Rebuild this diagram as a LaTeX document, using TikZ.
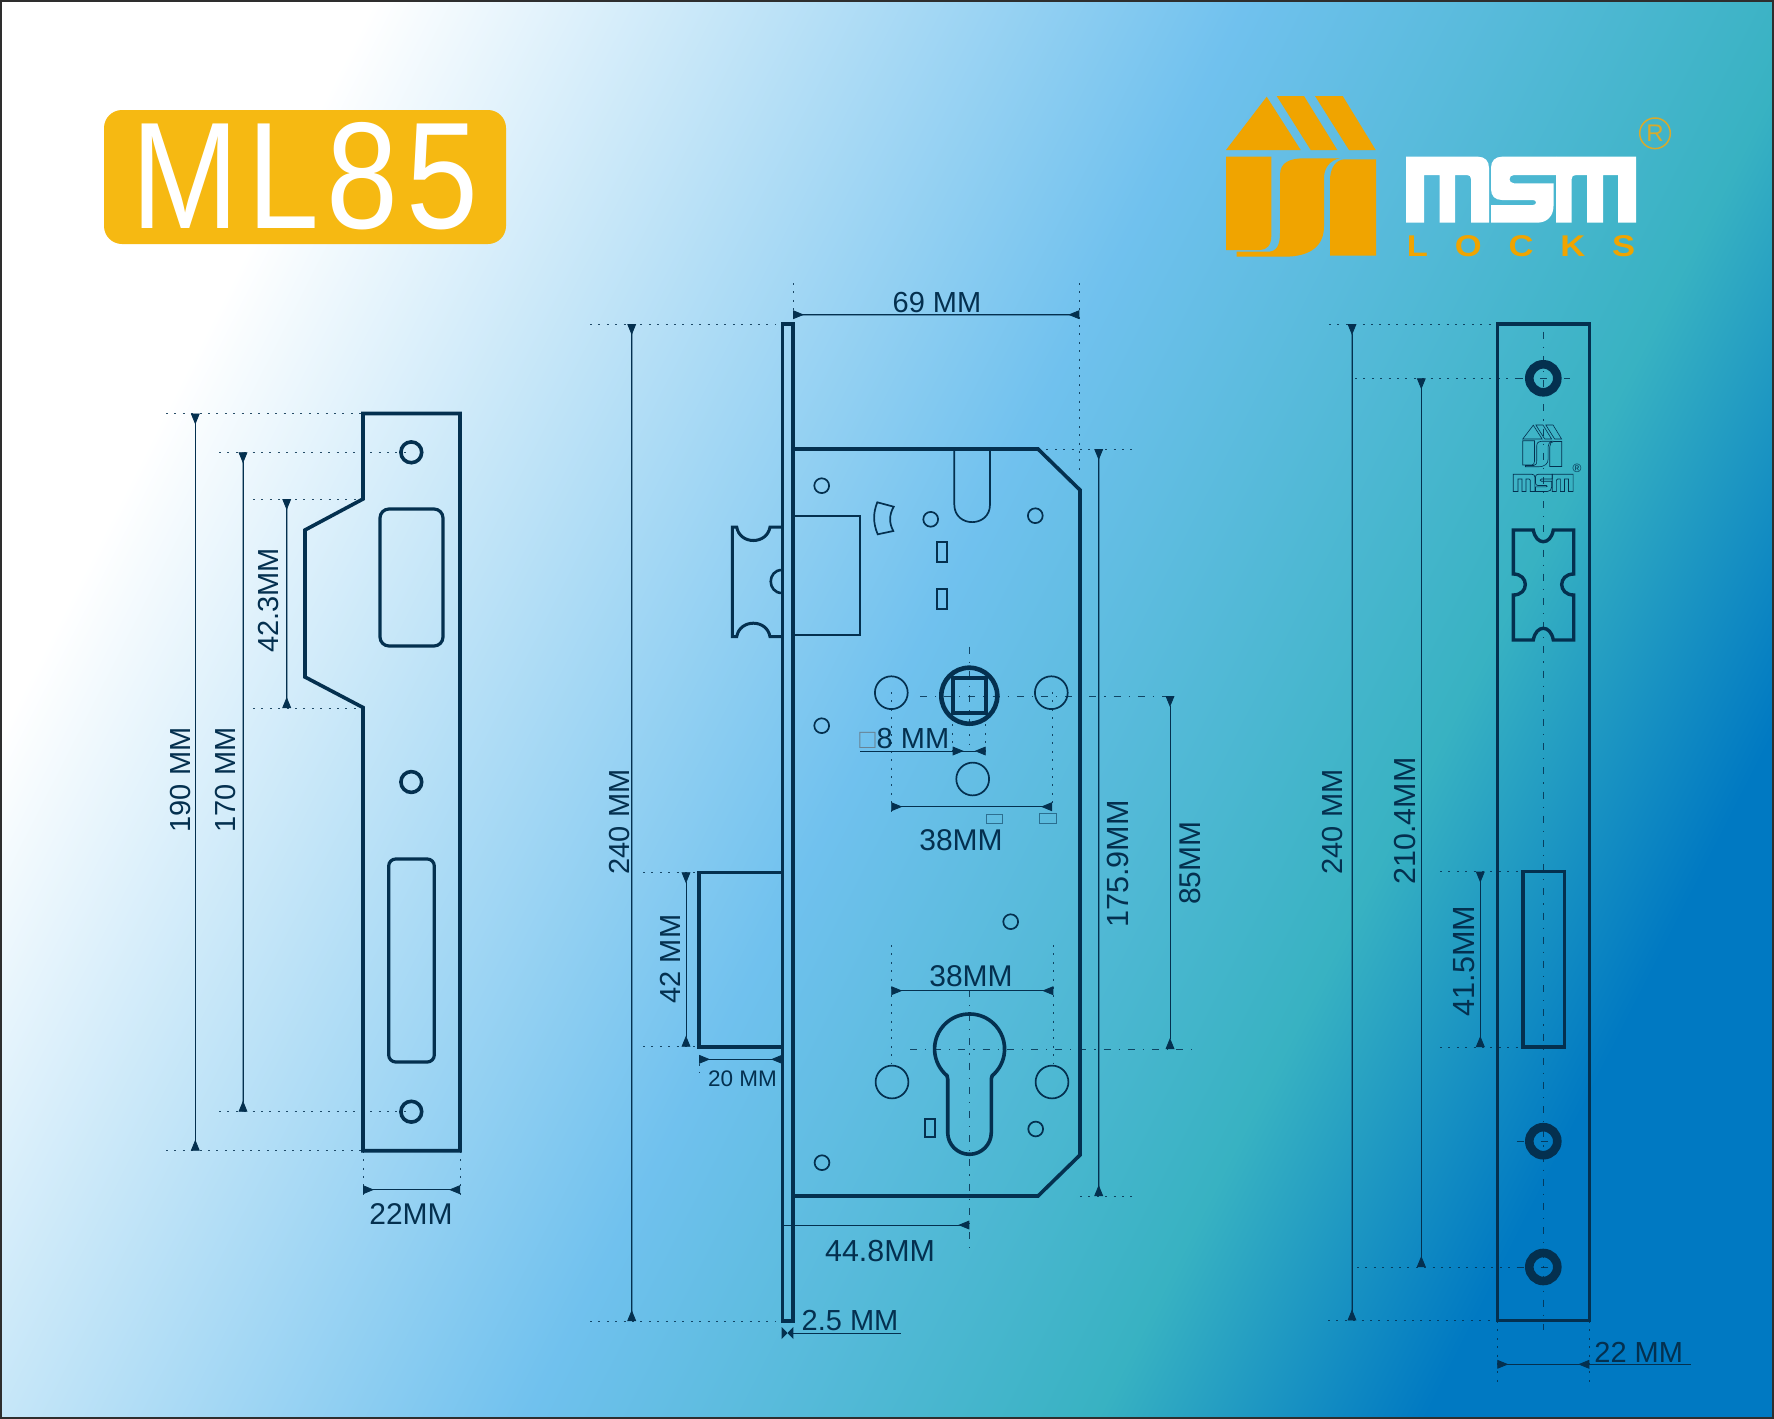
\documentclass[tikz,border=0pt]{standalone}
\usepackage{fontspec}
\setmainfont{Liberation Sans}
\newfontfamily\locksfont[LetterSpace=78]{Liberation Sans}
\usetikzlibrary{arrows.meta}
\definecolor{ink}{HTML}{04304F}
\definecolor{logoor}{HTML}{F0A400}
\definecolor{titleor}{HTML}{F6B912}
\definecolor{regc}{HTML}{D8AA2C}
\definecolor{skyc}{HTML}{70C1EE}
\definecolor{tealc}{HTML}{38B2C2}
\definecolor{deepc}{HTML}{0079C2}
\pgfdeclarehorizontalshading{bgshade}{100bp}{
 color(0bp)=(white); color(33.75bp)=(white);
 color(50bp)=(skyc);
 color(60.6bp)=(tealc);
 color(66.7bp)=(deepc);
 color(100bp)=(deepc)}
\tikzset{
 heavy/.style={draw=ink,line width=1.8pt,line join=miter},
 medium/.style={draw=ink,line width=1.05pt},
 light/.style={draw=ink,line width=.85pt},
 dimtext/.style={text=ink,font=\fontsize{14.5pt}{16pt}\selectfont,inner sep=0pt},
 dimb/.style={draw=ink,line width=.4pt,{Triangle[reversed,length=5.5pt,width=4.4pt]}-{Triangle[reversed,length=5.5pt,width=4.4pt]}},
 dimf/.style={dimb,preaction={draw=ink,draw opacity=.4,line width=.9pt,arrows=-}},
 extl/.style={draw=ink,draw opacity=.85,line width=.38pt,dash pattern=on 1pt off 3.2pt},
 cent/.style={draw=ink,draw opacity=.85,line width=.38pt,dash pattern=on 3.5pt off 4pt on .6pt off 4pt},
 wm/.style={fill=white},
 hs/.style={fill=logoor},
}
\newcommand{\housepaths}{
 \path[hs] (1266.7,96.7)--(1300.7,150)--(1226,150)--cycle;
 \path[hs] (1276.7,96)--(1304,96)--(1337.3,150)--(1310.7,150)--cycle;
 \path[hs] (1315,96)--(1342.7,96)--(1375.7,150)--(1349,150)--cycle;
 \path[hs] (1226,156.7)--(1271.3,156.7)--(1271.3,236) .. controls (1271.3,245) and (1267,250) .. (1260,250)--(1226,250)--cycle;
 \path[hs] (1340,158.3)--(1305,158.3) .. controls (1290,158.3) and (1280,162) .. (1280,175)--(1280,233) .. controls (1280,246) and (1276,251.7) .. (1268,251.7)--(1236.7,251.7)--(1236.7,256.7)--(1284,256.7) .. controls (1312,256.7) and (1324,245) .. (1324,226)--(1324,178) .. controls (1324,168) and (1330,160) .. (1340,158.3)--cycle;
 \path[hs] (1376,159.3)--(1376,255.7)--(1330,255.7)--(1330,180) .. controls (1330,168) and (1336,159.3) .. (1345,159.3)--cycle;
}
\newcommand{\wordpaths}{
 \path[wm] (1406,156.7)--(1478,156.7) .. controls (1485,156.7) and (1489,161) .. (1489,168)--(1489,222.7)--(1471,222.7)--(1471,179) .. controls (1471,176.5) and (1469.5,175) .. (1467,175)--(1455,175)--(1455,222.7)--(1439.5,222.7)--(1439.5,175)--(1424,175)--(1424,222.7)--(1406,222.7)--cycle;
 \path[wm] (1556,156.7)--(1502,156.7) .. controls (1495,156.7) and (1491,161) .. (1491,168)--(1491,189) .. controls (1491,196) and (1495,200) .. (1502,200)--(1533,200) .. controls (1537,200) and (1537,205) .. (1533,205)--(1491,205)--(1491,222.7)--(1537,222.7) .. controls (1547,222.7) and (1553.5,216) .. (1553.5,206)--(1553.5,183.3)--(1514,183.3) .. controls (1508,183.3) and (1508,175) .. (1514,175)--(1556,175)--cycle;
 \path[wm] (1556,156.7)--(1636,156.7)--(1636,222.7)--(1618,222.7)--(1618,175)--(1603,175)--(1603,222.7)--(1587,222.7)--(1587,175)--(1576,175) .. controls (1573,175) and (1571.7,176.5) .. (1571.7,179)--(1571.7,222.7)--(1556,222.7)--cycle;
}
\begin{document}
\begin{tikzpicture}[x=.5pt,y=-.5pt]
\useasboundingbox (0,0) rectangle (1774,1419);
% background
\begin{scope}
\clip (0,0) rectangle (1774,1419);
\shade[shading=bgshade,shading angle=-27] (-313,-490.5) rectangle (2087,1909.5);
\draw[draw=black!82,line width=1.3pt] (1,1) rectangle (1773,1418);
\end{scope}
% title
\path[fill=titleor,rounded corners=9pt] (104,110) rectangle (506,244);
\node[text=white,inner sep=0pt,font=\fontsize{76pt}{80pt}\selectfont\addfontfeature{LetterSpace=6}] (title) at (305,176.5) {\scalebox{.85}[1]{ML85}};
% logo
\housepaths
\wordpaths
\node[text=logoor,inner sep=0pt,font=\locksfont\bfseries\fontsize{15pt}{16pt}\selectfont] (locks) at (1521,246.5) {\scalebox{1.15}[1]{LOCKS}};
\node[draw=regc,text=regc,circle,line width=.75pt,minimum size=15.3pt,inner sep=0pt,font=\fontsize{12pt}{13pt}\selectfont] (reg) at (1655,133.3) {R};

% ============ left strike plate
\draw[heavy] (363,413.5)--(460,413.5)--(460,1150.7)--(363,1150.7)--(363,707.5)--(305,677)--(305,530)--(363,499)--cycle;
\draw[heavy] (411.3,452.3) circle[radius=5.2pt];
\draw[heavy] (411.3,782) circle[radius=5.2pt];
\draw[heavy] (411.3,1111.7) circle[radius=5.2pt];
\draw[medium,line width=1.6pt,rounded corners=4.5pt] (380,509) rectangle (443,646);
\draw[medium,line width=1.6pt,rounded corners=3.5pt] (388.7,859) rectangle (434.3,1062);
\draw[extl] (166,413.5)--(363,413.5);
\draw[extl] (166,1150.7)--(363,1150.7);
\draw[extl] (219,452.3)--(411,452.3);
\draw[extl] (219,1111.7)--(411,1111.7);
\draw[extl] (253,499)--(363,499);
\draw[extl] (253,708)--(363,708);
\draw[extl] (363,1150.7)--(363,1200);
\draw[extl] (460,1150.7)--(460,1200);
\draw[dimb] (195.3,413.5)--(195.3,1150.7);
\draw[dimf] (243,452.3)--(243,1111.7);
\draw[dimf] (286.7,499)--(286.7,708);
\draw[dimb] (363,1189.7)--(460,1189.7);
\node[dimtext,rotate=90] (d190) at (180.5,780) {190 MM};
\node[dimtext,rotate=90] (d170) at (226,780) {170 MM};
\node[dimtext,rotate=90] (d423) at (269,600.5) {42.3MM};
\node[dimtext,font=\fontsize{15pt}{16pt}\selectfont] (d22a) at (411,1214) {22MM};

% ============ centre lock
\draw[heavy] (782.6,324) rectangle (793,1321);
\draw[heavy] (793,449)--(1038,449)--(1080,490)--(1080,1155)--(1038,1196)--(793,1196);
\draw[light] (954.3,449)--(954.3,504.5) .. controls (954.3,528) and (990,528) .. (990,504.5)--(990,449);
\draw[light] (793,515.7) rectangle (860.3,635.3);
\draw[light] (877.3,502.3)--(893.7,506.7) .. controls (889,515) and (889,523) .. (893.3,531)--(877.7,534.3) .. controls (873,523) and (873,513) .. (877.3,502.3)--cycle;
\foreach \cx/\cy in {821.7/485.7,930.7/519.3,1035.3/515.7,821.7/725.7,1010.7/921.7,1035.7/1129,822/1162.7}
  \draw[light] (\cx,\cy) circle[radius=3.7pt];
\foreach \cx/\cy in {891.3/692.7,1051.3/692.7,972.7/779,892/1082,1052/1082}
  \draw[light] (\cx,\cy) circle[radius=8.2pt];
\draw[light] (936.7,542.3) rectangle (946.7,562);
\draw[light] (936.7,589) rectangle (946.7,609);
\draw[light] (925,1119.3) rectangle (935,1136.7);
\draw[draw=ink,draw opacity=.55,line width=.5pt] (986,814.3) rectangle (1002.7,823.7);
\draw[draw=ink,draw opacity=.55,line width=.5pt] (1039.3,813.7) rectangle (1056.7,823.7);
\draw[draw=ink,line width=2.3pt] (969.3,695.7) circle[radius=14pt];
\draw[draw=ink,line width=2pt] (952.7,678) rectangle (985.7,712.7);
% latch
\draw[medium,line width=1.5pt] (782,527)--(770,527) .. controls (767,545) and (739.7,545) .. (736.7,527)--(732.3,527)--(732.3,636.7)--(736.7,636.7) .. controls (739.7,618.7) and (767,618.7) .. (770,636.7)--(782,636.7);
\draw[medium,line width=1.3pt] (782,570) .. controls (767,570) and (767,593) .. (782,593);
% deadbolt
\draw[heavy] (782,872.3)--(699,872.3)--(699,1046.7)--(782,1046.7);
% keyhole
\draw[heavy] (947,1075.7) arc[start angle=229.8,end angle=-49.8,radius=17.5pt]--(991.3,1079)--(991.3,1132.5) arc[start angle=0,end angle=-180,radius=10.9pt]--(947.7,1079)--cycle;
% extension and centre lines
\draw[extl] (590,324)--(775,324);
\draw[extl] (590,1321)--(775,1321);
\draw[extl] (793,283)--(793,324);
\draw[extl] (1079.3,283)--(1079.3,475);
\draw[extl] (1038,449)--(1135,449);
\draw[extl] (1080,1196)--(1135,1196);
\draw[extl] (643,872.3)--(699,872.3);
\draw[extl] (643,1046.7)--(699,1046.7);
\draw[extl] (699,1046.7)--(699,1072);
\draw[extl] (891.3,692)--(891.3,816.7);
\draw[extl] (1052,692)--(1052,806.7);
\draw[extl] (952.7,716)--(952.7,755);
\draw[extl] (985.7,716)--(985.7,755);
\draw[extl] (891.3,945)--(891.3,1063);
\draw[extl] (1053.3,945)--(1053.3,1063);
\draw[cent] (969.3,646.7)--(969.3,745);
\draw[cent] (920,696)--(1170,696);
\draw[cent] (910,1049)--(1194,1049);
\draw[cent] (969.3,990)--(969.3,1251.7);
% dimension lines
\draw[dimf] (793,314.7)--(1079.3,314.7);
\draw[dimf] (631.7,324)--(631.7,1321);
\draw[dimf] (1098.7,449)--(1098.7,1196);
\draw[dimb] (1170,696)--(1170,1049);
\draw[dimb] (686,872.3)--(686,1046.7);
\draw[dimb] (699,1059.3)--(782,1059.3);
\draw[draw=ink,line width=.4pt,-{Triangle[reversed,length=5.5pt,width=4.4pt]}] (782.7,1225)--(969.3,1225);
\draw[dimb] (891.3,990.7)--(1053.3,990.7);
\draw[dimb] (891.3,806.7)--(1052,806.7);
\draw[draw=ink,line width=.4pt] (860.3,751)--(952.7,751);
\draw[dimb] (952.7,751)--(985.7,751);
\draw[draw=ink,line width=.4pt] (793,1333)--(900.7,1333);
\path[fill=ink] (781.7,1327)--(787.5,1333)--(781.7,1339)--cycle;
\path[fill=ink] (793.3,1327)--(787.5,1333)--(793.3,1339)--cycle;
\node[dimtext] (d69) at (937,302.5) {69 MM};
\node[dimtext,rotate=90] (d240a) at (620,822) {240 MM};
\node[dimtext,rotate=90,font=\fontsize{15.3pt}{16pt}\selectfont] (d175) at (1118,864) {175.9MM};
\node[dimtext,rotate=90,font=\fontsize{15pt}{16pt}\selectfont] (d85) at (1190,863) {85MM};
\node[dimtext,rotate=90] (d42) at (670,959) {42 MM};
\node[dimtext,font=\fontsize{11.25pt}{12pt}\selectfont] (d20) at (742.5,1078.5) {20 MM};
\node[dimtext,font=\fontsize{15.2pt}{16pt}\selectfont] (d448) at (880,1251) {44.8MM};
\node[dimtext,font=\fontsize{15pt}{16pt}\selectfont] (d38a) at (971,976) {38MM};
\node[dimtext,font=\fontsize{15pt}{16pt}\selectfont] (d38b) at (961,840) {38MM};
\node[dimtext,anchor=west] (d8) at (859,739) {{\color{ink!60}\fontsize{13.5pt}{16pt}\selectfont □}\kern.5pt 8 MM};
\node[dimtext] (d25) at (850,1320.5) {2.5 MM};

% ============ right face plate
\draw[heavy] (1497.3,324) rectangle (1589.3,1320.4);
\draw[draw=ink,line width=4.3pt] (1543.3,378.3) circle[radius=7pt];
\draw[draw=ink,line width=4.3pt] (1543.3,1141.2) circle[radius=7pt];
\draw[draw=ink,line width=4.3pt] (1543.3,1267) circle[radius=7pt];
\draw[medium,line width=1.7pt] (1513.3,530)--(1533.3,530) .. controls (1536,545.6) and (1550.6,545.6) .. (1553.3,530)--(1573.7,530)--(1573.7,574) .. controls (1557.7,574) and (1557.7,595) .. (1573.7,595)--(1573.7,640)--(1553.3,640) .. controls (1550.6,624.4) and (1536,624.4) .. (1533.3,640)--(1513.3,640)--(1513.3,595) .. controls (1529.3,595) and (1529.3,574) .. (1513.3,574)--cycle;
\draw[medium,line width=1.8pt] (1522.7,871.6) rectangle (1564.3,1047);
\begin{scope}[shift={(1522.7,425)},scale=.26,shift={(-1226,-96)},hs/.style={draw=ink,line width=.3pt},wm/.style={}]
\housepaths
\end{scope}
\begin{scope}[shift={(1513.3,474.3)},scale=.26,shift={(-1406,-156.7)},wm/.style={draw=ink,line width=.35pt}]
\wordpaths
\end{scope}
\node[text=ink,inner sep=0pt,font=\fontsize{6pt}{7pt}\selectfont] (regs) at (1577,468.3) {®};
\draw[cent] (1543.3,331.7)--(1543.3,1330);
\draw[cent] (1516,378.3)--(1570,378.3);
\draw[cent] (1516.7,1141.2)--(1565,1141.2);
\draw[cent] (1516.7,1267)--(1565,1267);
\draw[extl] (1329,324)--(1497,324);
\draw[extl] (1328,1320.4)--(1490,1320.4);
\draw[extl] (1355,378.3)--(1516,378.3);
\draw[extl] (1357,1267)--(1516,1267);
\draw[extl] (1440,871.6)--(1522,871.6);
\draw[extl] (1440,1047)--(1522,1047);
\draw[extl] (1497.3,1321)--(1497.3,1381.5);
\draw[extl] (1589.3,1321)--(1589.3,1381.5);
\draw[dimf] (1352,324)--(1352,1320.4);
\draw[dimb] (1421.3,378.3)--(1421.3,1267);
\draw[dimb] (1480.3,871.6)--(1480.3,1047);
\draw[dimb] (1497.3,1364.3)--(1589.3,1364.3);
\draw[draw=ink,line width=.4pt] (1589.3,1364.3)--(1690.7,1364.3);
\node[dimtext,rotate=90] (d240b) at (1333,822) {240 MM};
\node[dimtext,rotate=90,font=\fontsize{15.2pt}{16pt}\selectfont] (d210) at (1405,821) {210.4MM};
\node[dimtext,rotate=90,font=\fontsize{15.3pt}{16pt}\selectfont] (d415) at (1464.5,961) {41.5MM};
\node[dimtext] (d22b) at (1638.7,1352) {22 MM};
\end{tikzpicture}
\end{document}
